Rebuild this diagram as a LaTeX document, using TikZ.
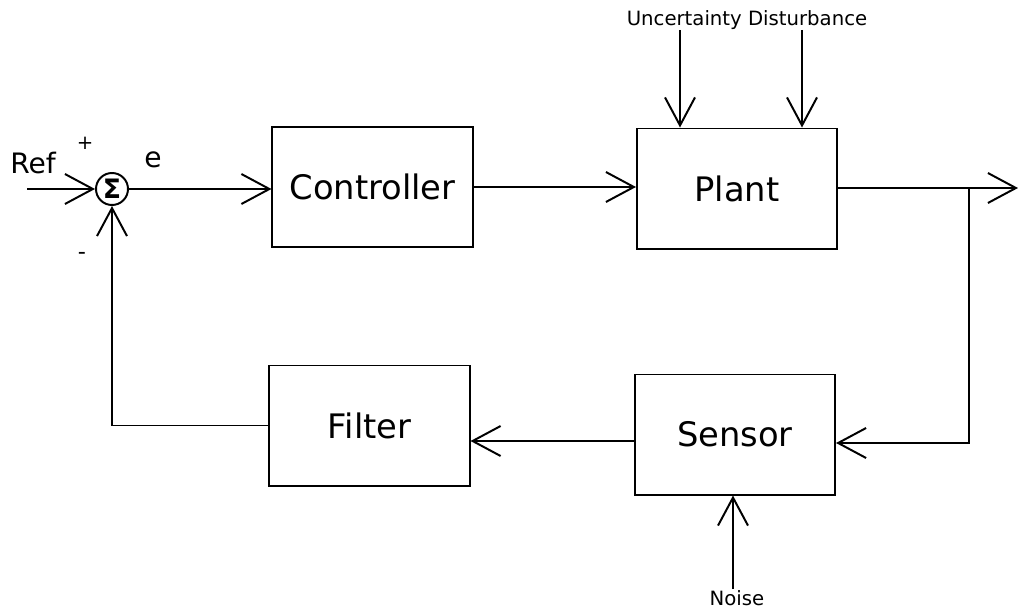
\documentclass[tikz,border=0pt]{standalone}
\usepackage{fontspec}
\setmainfont{DejaVu Sans}
\usetikzlibrary{arrows.meta}
\tikzset{
  blockbox/.style={draw, line width=1.4pt, minimum width=5cm, minimum height=3cm, font=\fontsize{24}{28}\selectfont},
  sig/.style={line width=1.4pt, -{Straight Barb[length=7mm,width=7.5mm,line width=1.4pt]}},
  wire/.style={line width=1.4pt},
  smalllbl/.style={font=\fontsize{14}{16}\selectfont, inner sep=0pt}
}
\begin{document}
\begin{tikzpicture}[x=0.025cm, y=-0.025cm]
  \useasboundingbox (0,0) rectangle (1018,611);

  % summing junction and blocks
  \node[draw, circle, line width=1.4pt, minimum size=0.8cm, inner sep=0pt, font=\fontsize{19}{21}\selectfont\bfseries] (sum) at (112,189) {Σ};
  \node[blockbox] (ctrl) at (372.5,187) {Controller};
  \node[blockbox] (plant) at (737,188.5) {Plant};
  \node[blockbox] (sensor) at (735,434.5) {Sensor};
  \node[blockbox] (filter) at (369.5,425.5) {Filter};

  % free ends
  \coordinate (refin) at (27,189);
  \coordinate (out) at (1018,188);
  \coordinate (branch) at (969,188);
  \coordinate (unc) at (680,30);
  \coordinate (dist) at (802,30);
  \coordinate (noisein) at (733,589);
  \coordinate (sensin) at (0,443);
  \coordinate (filtin) at (0,441);

  % labels
  \node[font=\fontsize{20}{22}\selectfont, inner sep=0pt] (reflbl) at (33,163) {Ref};
  \node[font=\fontsize{14}{16}\selectfont, inner sep=0pt] (plus) at (85,143) {+};
  \node[font=\fontsize{20}{22}\selectfont, inner sep=0pt] (elbl) at (153,160) {e};
  \node[font=\fontsize{16}{18}\selectfont, inner sep=0pt] (minus) at (82,256) {-};
  \node[smalllbl] (distlbl) at (747,20) {Uncertainty Disturbance};
  \node[smalllbl] (noiselbl) at (737,598) {Noise};

  % forward path
  \draw[sig] (refin) -- (sum.west);
  \draw[sig] (sum.east) -- (sum.east -| ctrl.west);
  \draw[sig] (ctrl.east) -- (ctrl.east -| plant.west);
  \draw[wire] (plant.east |- out) -- (branch);
  \draw[sig] (branch) -- (out);
  \draw[sig] (unc) -- (unc |- plant.north);
  \draw[sig] (dist) -- (dist |- plant.north);

  % feedback path
  \draw[sig] (branch) |- (sensin -| sensor.east);
  \draw[sig] (noisein) -- (noisein |- sensor.south);
  \draw[sig] (filtin -| sensor.west) -- (filtin -| filter.east);
  \draw[sig] (filter.west) -| (sum.south);
\end{tikzpicture}
\end{document}
